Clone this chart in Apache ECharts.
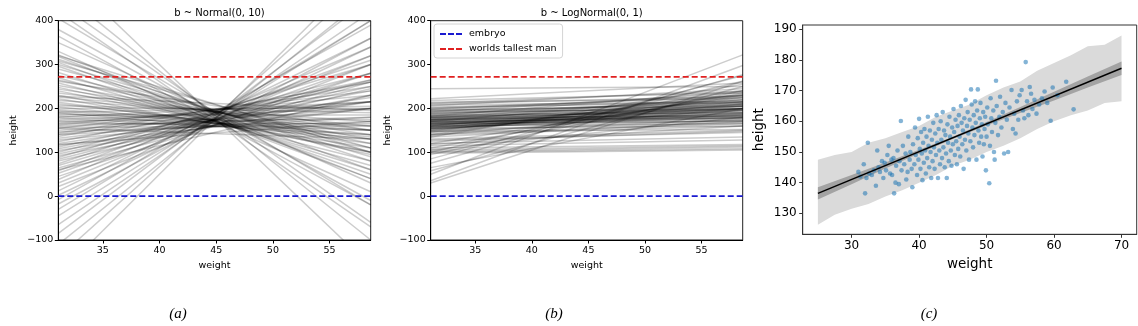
<!DOCTYPE html>
<html>
<head>
<meta charset="utf-8">
<script src="https://cdn.jsdelivr.net/npm/echarts@6/dist/echarts.min.js"></script>
<style>
html,body{margin:0;padding:0;background:#fff;}
#chart{width:1138px;height:326px;}
</style>
</head>
<body>
<div id="chart"></div>
<script>
// ---------------- data ----------------
const weightRange = [31.07, 58.63];           // min / max adult weight used for prior lines
const embryoHeight = 0;
const tallestManHeight = 272;
const abXTicks = [35, 40, 45, 50, 55];
const cXTicks = [30, 40, 50, 60, 70];
const cYTicks = [130, 140, 150, 160, 170, 180, 190];

// prior predictive lines, [height at min weight, height at max weight]
const normalLines = [
  [520,-160],[470,-100],[440,-60],[420,-70],[405,-20],[380,-10],[365,-20],[350,30],[330,10],[322,60],
  [318,40],[312,80],[305,40],[300,90],[296,50],[290,100],[282,60],[275,110],[270,70],[265,120],
  [258,80],[252,130],[248,95],[244,140],[240,100],[235,150],[230,100],[226,160],[222,110],[218,170],
  [214,120],[210,135],[206,190],[203,130],[200,200],[197,150],[194,140],[191,205],[188,160],[185,185],
  [182,150],[180,215],[178,140],[175,200],[172,175],[170,150],[167,215],[165,165],[162,230],[160,180],
  [157,160],[154,240],[150,200],[147,170],[144,250],[141,215],[140,180],[136,260],[132,215],[128,200],
  [124,265],[120,225],[116,200],[112,260],[108,240],[104,215],[100,280],[96,250],[92,230],[88,300],
  [84,265],[80,245],[74,310],[70,280],[64,260],[58,320],[52,300],[45,280],[38,340],[30,320],
  [22,300],[12,360],[2,340],[-8,390],[-18,360],[-30,400],[-45,400],[-65,420],[-85,450],[-110,460],
  [-140,500],[-180,530],[320,100],[308,110],[262,150],[228,195],[190,130],[155,130],[118,170],[60,230]
];
const logNormalLines = [
  [50,322],[35,298],[30,262],[58,250],[75,277],[100,262],[95,240],[110,235],[120,230],[135,255],
  [140,240],[145,225],[148,232],[150,210],[152,205],[153,195],[155,215],[156,180],[157,200],[158,190],
  [160,185],[160,220],[162,178],[163,195],[164,200],[165,172],[166,210],[167,188],[168,183],[170,230],
  [170,195],[171,180],[172,205],[173,190],[174,186],[175,215],[176,198],[177,182],[178,225],[180,200],
  [181,192],[182,240],[183,210],[185,196],[186,220],[188,205],[190,200],[192,236],[194,212],[196,205],
  [198,230],[200,218],[203,213],[206,245],[210,228],[214,222],[218,236],[222,258],[245,250],[140,160],
  [130,150],[128,145],[120,135],[115,128],[110,118],[105,115],[100,108],[98,105],[102,112],[125,148],
  [135,170],[142,165],[146,175],[150,168],[154,185],[158,172],[161,208],[164,188],[169,178],[174,200],
  [179,205],[184,190],[189,215],[193,198],[197,208],[201,226],[208,215],[212,240],[155,160],[148,152],
  [160,165],[166,170],[170,175],[175,178],[180,183],[85,275],[65,200],[105,180],[118,160],[138,200]
];

// observed adults [weight, height]
const observed = [
  [31.0,143.5],[31.3,142.0],[31.8,146.0],[32.0,136.5],[32.2,141.5],[32.4,153.0],[32.6,143.0],[33.0,142.5],[33.3,144.0],[33.6,139.0],
  [33.8,150.5],[34.0,145.0],[34.2,143.5],[34.5,147.0],[34.7,141.5],[34.9,146.5],[35.1,144.0],[35.3,149.0],[35.5,152.0],[35.7,143.0],[35.9,147.5],
  [36.0,142.5],[36.2,148.0],[36.3,136.5],[36.5,140.0],[36.6,145.5],[36.8,150.5],[37.0,139.5],[37.1,147.0],[37.3,160.1],[37.4,144.0],
  [37.6,152.0],[37.8,146.0],[38.0,149.5],[38.1,141.0],[38.3,143.5],[38.4,155.0],[38.6,147.5],[38.7,150.0],[38.9,144.5],[39.0,138.5],
  [39.1,152.5],[39.3,146.0],[39.4,158.0],[39.5,149.0],[39.7,142.5],[39.8,154.5],[39.9,147.5],[40.0,160.8],[40.1,151.0],[40.2,144.5],
  [40.3,156.5],[40.4,149.5],[40.5,140.8],[40.6,153.0],[40.7,146.5],[40.8,157.5],[40.9,150.5],[41.0,143.0],[41.1,155.0],[41.2,148.0],
  [41.3,161.5],[41.4,152.0],[41.5,145.0],[41.6,157.0],[41.7,150.0],[41.8,141.5],[41.9,154.0],[42.0,147.0],
  [42.1,159.5],[42.2,151.5],[42.3,144.5],[42.4,156.0],[42.5,149.0],[42.6,162.0],[42.7,153.0],[42.8,141.5],[42.9,157.5],[43.0,150.5],
  [43.1,146.0],[43.2,160.0],[43.3,154.0],[43.4,148.0],[43.5,163.0],[43.6,151.5],[43.7,157.0],[43.8,145.0],[43.9,155.5],[44.0,149.5],
  [44.1,141.5],[44.2,159.0],[44.3,153.0],[44.4,147.0],[44.5,161.5],[44.6,155.0],[44.7,150.5],[44.8,145.5],[44.9,158.0],[45.0,152.5],
  [45.1,164.0],[45.2,156.5],[45.3,149.0],[45.4,160.5],[45.5,153.5],[45.6,146.0],[45.7,158.5],[45.8,151.0],[45.9,162.0],[46.0,155.0],
  [46.1,148.5],[46.2,165.0],[46.3,159.5],[46.4,152.5],[46.5,157.0],[46.6,144.5],[46.7,161.0],[46.8,154.0],[46.9,167.0],[47.0,150.5],
  [47.1,158.5],[47.2,163.0],[47.3,156.0],[47.4,147.5],[47.5,160.5],[47.6,153.5],[47.7,170.4],[47.8,165.5],[47.9,158.0],
  [48.0,151.5],[48.1,162.0],[48.2,155.5],[48.3,166.5],[48.4,159.5],[48.5,147.5],[48.6,163.5],[48.7,170.4],[48.8,157.0],[48.9,153.0],
  [49.0,161.0],[49.1,166.0],[49.2,155.0],[49.3,159.0],[49.4,148.5],[49.5,163.0],[49.6,152.5],[49.7,157.5],[49.8,161.5],[49.9,144.0],
  [50.0,155.0],[50.1,164.5],[50.2,159.0],[50.4,139.8],[50.5,152.0],[50.6,167.5],[50.7,161.0],[50.8,156.5],[51.0,163.5],[51.1,150.0],
  [51.2,147.5],[51.3,159.5],[51.4,173.2],[51.5,165.0],[51.7,155.5],[51.9,161.5],[52.0,168.0],[52.2,158.0],[52.4,163.0],[52.6,149.5],
  [52.8,166.0],[53.0,160.5],[53.2,150.0],[53.4,164.5],[53.7,170.2],[53.9,157.5],
  [54.1,162.5],[54.3,156.0],[54.5,166.5],[54.7,160.5],[54.9,168.5],[55.2,170.2],[55.4,163.5],[55.6,161.0],[55.8,179.3],[56.0,166.5],
  [56.2,162.0],[56.4,171.2],[56.6,169.0],[56.8,164.0],[57.1,167.0],[57.4,162.5],[57.8,165.5],[58.2,167.5],[58.6,169.7],[59.0,166.0],
  [59.5,160.2],[59.8,171.0],[60.5,168.5],[61.8,172.9],[62.9,163.9]
];

// posterior prediction interval (outer band)
const bandX     = [25, 27.5, 30, 32.5, 35, 37.5, 40, 42.5, 45, 47.5, 50, 52.5, 55, 57.5, 60, 62.5, 65, 67.5, 70];
const bandUpper = [147.5,149.0,150.0,153.0,154.5,156.5,158.5,161.5,163.5,165.5,168.5,171.0,173.0,176.5,179.0,181.5,184.5,185.0,188.0];
const bandLower = [126.3,129.5,131.5,133.0,135.5,137.5,140.0,142.5,145.5,147.5,150.0,152.0,154.5,157.5,160.0,162.0,163.5,166.0,166.5];
// interval of the mean (inner band)
const muX     = [25, 30, 35, 40, 45, 50, 55, 60, 65, 70];
const muLower = [134.5,139.5,144.6,149.5,154.2,158.6,162.7,166.8,171.0,175.1];
const muUpper = [138.5,142.5,146.6,150.7,155.0,159.8,164.7,169.6,174.6,179.5];
const meanLine = [[25, 136.5], [70, 177.3]];

// ---------------- chart ----------------
const FONT = 'DejaVu Sans';
const minus = v => String(v).replace('-', '\u2212');
const DASH_ICON = 'path://M0,0H6V2H0Z M8,0H14V2H8Z M16,0H22V2H16Z';

function abXAxis(gi) {
  return {
    type: 'value', gridIndex: gi, min: weightRange[0], max: weightRange[1],
    name: 'weight', nameLocation: 'middle', nameGap: 19,
    nameTextStyle: {fontFamily: FONT, fontSize: 9.5, color: '#000'},
    axisLine: {show: true, onZero: false, lineStyle: {color: '#000', width: 1}},
    axisTick: {show: true, length: 3.5, customValues: abXTicks, lineStyle: {color: '#000'}},
    axisLabel: {show: true, customValues: abXTicks, margin: 6, fontFamily: FONT, fontSize: 9.5, color: '#000'},
    splitLine: {show: false}
  };
}
function abYAxis(gi, gap) {
  return {
    type: 'value', gridIndex: gi, min: -100, max: 400, interval: 100,
    name: 'height', nameLocation: 'middle', nameGap: gap, nameRotate: 90,
    nameTextStyle: {fontFamily: FONT, fontSize: 9.5, color: '#000'},
    axisLine: {show: true, onZero: false, lineStyle: {color: '#000', width: 1}},
    axisTick: {show: true, length: 3.5, lineStyle: {color: '#000'}},
    axisLabel: {show: true, margin: 5, fontFamily: FONT, fontSize: 9.5, color: '#000', formatter: minus},
    splitLine: {show: false}
  };
}

const series = [];
function priorLines(lines, gi) {
  lines.forEach((l) => {
    series.push({
      type: 'line', xAxisIndex: gi, yAxisIndex: gi, silent: true, symbol: 'none', clip: true,
      data: [[weightRange[0], l[0]], [weightRange[1], l[1]]],
      lineStyle: {color: '#000', opacity: 0.2, width: 1.5}, z: 2
    });
  });
  series.push({
    name: 'embryo', type: 'line', xAxisIndex: gi, yAxisIndex: gi, symbol: 'none', silent: true,
    data: [[weightRange[0], embryoHeight], [weightRange[1], embryoHeight]],
    lineStyle: {color: '#1a1ad0', type: [6, 3], width: 1.7}, itemStyle: {color: '#1a1ad0'}, z: 3
  });
  series.push({
    name: 'worlds tallest man', type: 'line', xAxisIndex: gi, yAxisIndex: gi, symbol: 'none', silent: true,
    data: [[weightRange[0], tallestManHeight], [weightRange[1], tallestManHeight]],
    lineStyle: {color: '#e02020', type: [6, 3], width: 1.7}, itemStyle: {color: '#e02020'}, z: 3
  });
}
priorLines(normalLines, 0);
priorLines(logNormalLines, 1);

function bandSeries(xs, lo, hi, color, z) {
  return {
    type: 'custom', xAxisIndex: 2, yAxisIndex: 2, silent: true, z: z,
    data: [[xs[0], lo[0]]],
    renderItem: function (params, api) {
      const pts = [];
      for (let i = 0; i < xs.length; i++) pts.push(api.coord([xs[i], hi[i]]));
      for (let i = xs.length - 1; i >= 0; i--) pts.push(api.coord([xs[i], lo[i]]));
      return {type: 'polygon', shape: {points: pts}, style: {fill: color}};
    }
  };
}
series.push(bandSeries(bandX, bandLower, bandUpper, '#dadada', 1));
series.push(bandSeries(muX, muLower, muUpper, '#a3a3a3', 2));
series.push({
  type: 'scatter', xAxisIndex: 2, yAxisIndex: 2, silent: true, z: 3,
  data: observed, symbolSize: 4.6,
  itemStyle: {color: '#1f77b4', opacity: 0.55}
});
series.push({
  type: 'line', xAxisIndex: 2, yAxisIndex: 2, silent: true, z: 4, symbol: 'none',
  data: meanLine, lineStyle: {color: '#000', width: 1.4}
});

const option = {
  animation: false,
  backgroundColor: '#fff',
  title: [
    {text: 'b ~ Normal(0, 10)', left: 214.5, top: 3, textAlign: 'center',
     textStyle: {fontFamily: FONT, fontSize: 10, fontWeight: 'normal', color: '#000'}},
    {text: 'b ~ LogNormal(0, 1)', left: 586.7, top: 3, textAlign: 'center',
     textStyle: {fontFamily: FONT, fontSize: 10, fontWeight: 'normal', color: '#000'}},
    {text: '(a)', left: 173, top: 302, textAlign: 'center',
     textStyle: {fontFamily: 'Liberation Serif', fontStyle: 'italic', fontSize: 15, fontWeight: 'normal', color: '#000'}},
    {text: '(b)', left: 549, top: 302, textAlign: 'center',
     textStyle: {fontFamily: 'Liberation Serif', fontStyle: 'italic', fontSize: 15, fontWeight: 'normal', color: '#000'}},
    {text: '(c)', left: 924, top: 302, textAlign: 'center',
     textStyle: {fontFamily: 'Liberation Serif', fontStyle: 'italic', fontSize: 15, fontWeight: 'normal', color: '#000'}}
  ],
  legend: {
    data: [{name: 'embryo', icon: DASH_ICON}, {name: 'worlds tallest man', icon: DASH_ICON}],
    orient: 'vertical', left: 434, top: 24,
    itemWidth: 22, itemHeight: 2, itemGap: 5,
    padding: [5, 6, 4, 6],
    backgroundColor: '#fff', borderColor: '#d4d4d4', borderWidth: 1, borderRadius: 3,
    selectedMode: false,
    itemStyle: {borderWidth: 0},
    textStyle: {fontFamily: FONT, fontSize: 9.5, color: '#000', padding: [0, 0, 0, 2]}
  },
  grid: [
    {left: 58.3, top: 20.7, width: 312.4, height: 219.3, show: true, borderColor: '#222', borderWidth: 1, backgroundColor: 'transparent', containLabel: false, outerBoundsMode: 'none'},
    {left: 430.7, top: 20.7, width: 312, height: 219.3, show: true, borderColor: '#222', borderWidth: 1, backgroundColor: 'transparent', containLabel: false, outerBoundsMode: 'none'},
    {left: 802.7, top: 25, width: 334, height: 209.3, show: true, borderColor: '#333', borderWidth: 1, backgroundColor: 'transparent', containLabel: false, outerBoundsMode: 'none'}
  ],
  xAxis: [
    abXAxis(0), abXAxis(1),
    {
      type: 'value', gridIndex: 2, min: 22.75, max: 72.25,
      name: 'weight', nameLocation: 'middle', nameGap: 20,
      nameTextStyle: {fontFamily: FONT, fontSize: 13.5, color: '#000'},
      axisLine: {show: true, onZero: false, lineStyle: {color: '#333', width: 1}},
      axisTick: {show: true, length: 3.5, customValues: cXTicks, lineStyle: {color: '#333'}},
      axisLabel: {show: true, customValues: cXTicks, margin: 6, fontFamily: FONT, fontSize: 12, color: '#000'},
      splitLine: {show: false}
    }
  ],
  yAxis: [
    abYAxis(0, 40), abYAxis(1, 38.5),
    {
      type: 'value', gridIndex: 2, min: 123.15, max: 191.4,
      name: 'height', nameLocation: 'middle', nameGap: 36, nameRotate: 90,
      nameTextStyle: {fontFamily: FONT, fontSize: 13.5, color: '#000'},
      axisLine: {show: true, onZero: false, lineStyle: {color: '#333', width: 1}},
      axisTick: {show: true, length: 3.5, customValues: cYTicks, lineStyle: {color: '#333'}},
      axisLabel: {show: true, customValues: cYTicks, margin: 6, fontFamily: FONT, fontSize: 12, color: '#000'},
      splitLine: {show: false}
    }
  ],
  series: series
};

const chart = echarts.init(document.getElementById('chart'), null, {renderer: 'canvas'});
chart.setOption(option);
</script>
</body>
</html>
